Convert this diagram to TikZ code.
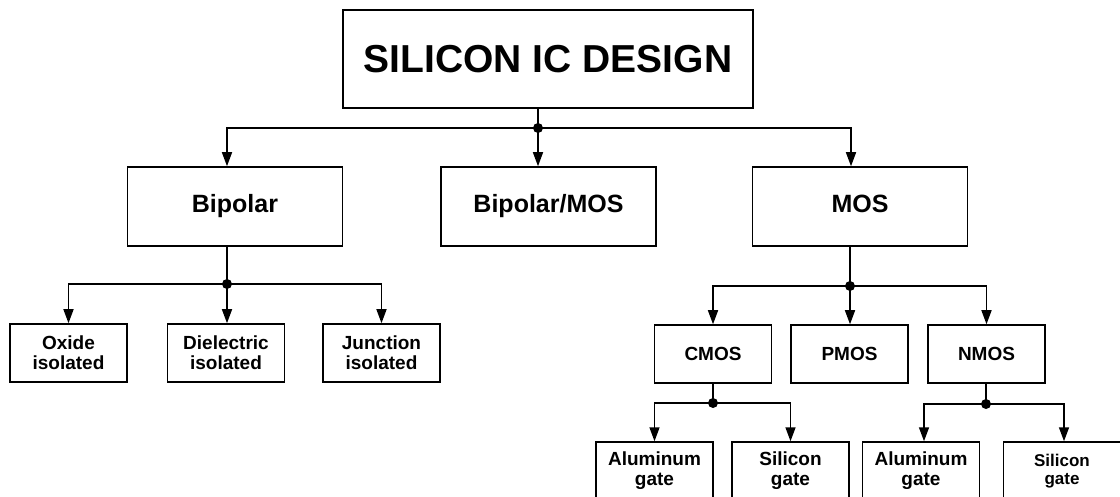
\documentclass[tikz,border=0pt]{standalone}
\usepackage{fontspec}
\setmainfont{Liberation Sans}
\usetikzlibrary{arrows.meta}
\tikzset{
  box/.style={draw, line width=1.5pt, align=center, inner sep=0pt,
    font=\bfseries\fontsize{19}{20}\selectfont},
  midbox/.style={box, minimum width=215pt, minimum height=79pt,
    text height=18pt, text depth=5pt,
    font=\bfseries\fontsize{25}{28}\selectfont},
  smallbox/.style={box, minimum width=117pt, minimum height=58pt},
  link/.style={line width=1.5pt},
  arr/.style={line width=1.5pt, -{Triangle[length=14pt,width=10pt]}},
  dot/.style={circle, fill, inner sep=0pt, minimum size=10pt}
}

\begin{document}
\begin{tikzpicture}[x=1pt,y=-1pt]
    \clip (0,0) rectangle (1120,497);

    % Title
    \node[box, minimum width=410pt, minimum height=98pt,
      font=\bfseries\fontsize{39}{44}\selectfont] (design) at (548,59) {SILICON IC DESIGN};

    % Technologies
    \node[midbox] (bip) at (235,206.5) {Bipolar};
    \node[midbox] (bimos) at (548.5,206.5) {Bipolar/MOS};
    \node[midbox] (mos) at (860,206.5) {MOS};

    % Bipolar isolation
    \node[smallbox] (oxide) at (68.5,353) {Oxide\\isolated};
    \node[smallbox] (diel) at (226,353) {Dielectric\\isolated};
    \node[smallbox] (junc) at (381.5,353) {Junction\\isolated};

    % MOS families
    \node[smallbox] (cmos) at (713,354) {CMOS};
    \node[smallbox] (pmos) at (849.5,354) {PMOS};
    \node[smallbox] (nmos) at (986.5,354) {NMOS};

    % Gates
    \node[smallbox] (alcmos) at (654.5,471) {Aluminum\\gate};
    \node[smallbox] (sicmos) at (790.5,471) {Silicon\\gate};
    \node[smallbox] (alnmos) at (921,471) {Aluminum\\gate};
    \node[smallbox, font=\bfseries\fontsize{17}{18}\selectfont] (sinmos) at (1062,471) {Silicon\\gate};

    % Junctions
    \node[dot] (jtop) at (538,128) {};
    \node[dot] (jbip) at (227,284) {};
    \node[dot] (jmos) at (850,286) {};
    \node[dot] (jcmos) at (713,403) {};
    \node[dot] (jnmos) at (986,404) {};

    % Connectors
    \draw[link] (jtop |- design.south) -- (jtop.center);
    \draw[arr] (jtop.center) -| ([xshift=-8pt]bip.north);
    \draw[arr] (jtop.center) -- (jtop |- bimos.north);
    \draw[arr] (jtop.center) -| ([xshift=-9pt]mos.north);

    \draw[link] (jbip |- bip.south) -- (jbip.center);
    \draw[arr] (jbip.center) -| (oxide.north);
    \draw[arr] (jbip.center) -- (jbip |- diel.north);
    \draw[arr] (jbip.center) -| (junc.north);

    \draw[link] (jmos |- mos.south) -- (jmos.center);
    \draw[arr] (jmos.center) -| (cmos.north);
    \draw[arr] (jmos.center) -- (jmos |- pmos.north);
    \draw[arr] (jmos.center) -| (nmos.north);

    \draw[link] (jcmos |- cmos.south) -- (jcmos.center);
    \draw[arr] (jcmos.center) -| (alcmos.north);
    \draw[arr] (jcmos.center) -| (sicmos.north);

    \draw[link] (jnmos |- nmos.south) -- (jnmos.center);
    \draw[arr] (jnmos.center) -| ([xshift=3pt]alnmos.north);
    \draw[arr] (jnmos.center) -| ([xshift=2pt]sinmos.north);
\end{tikzpicture}
\end{document}
